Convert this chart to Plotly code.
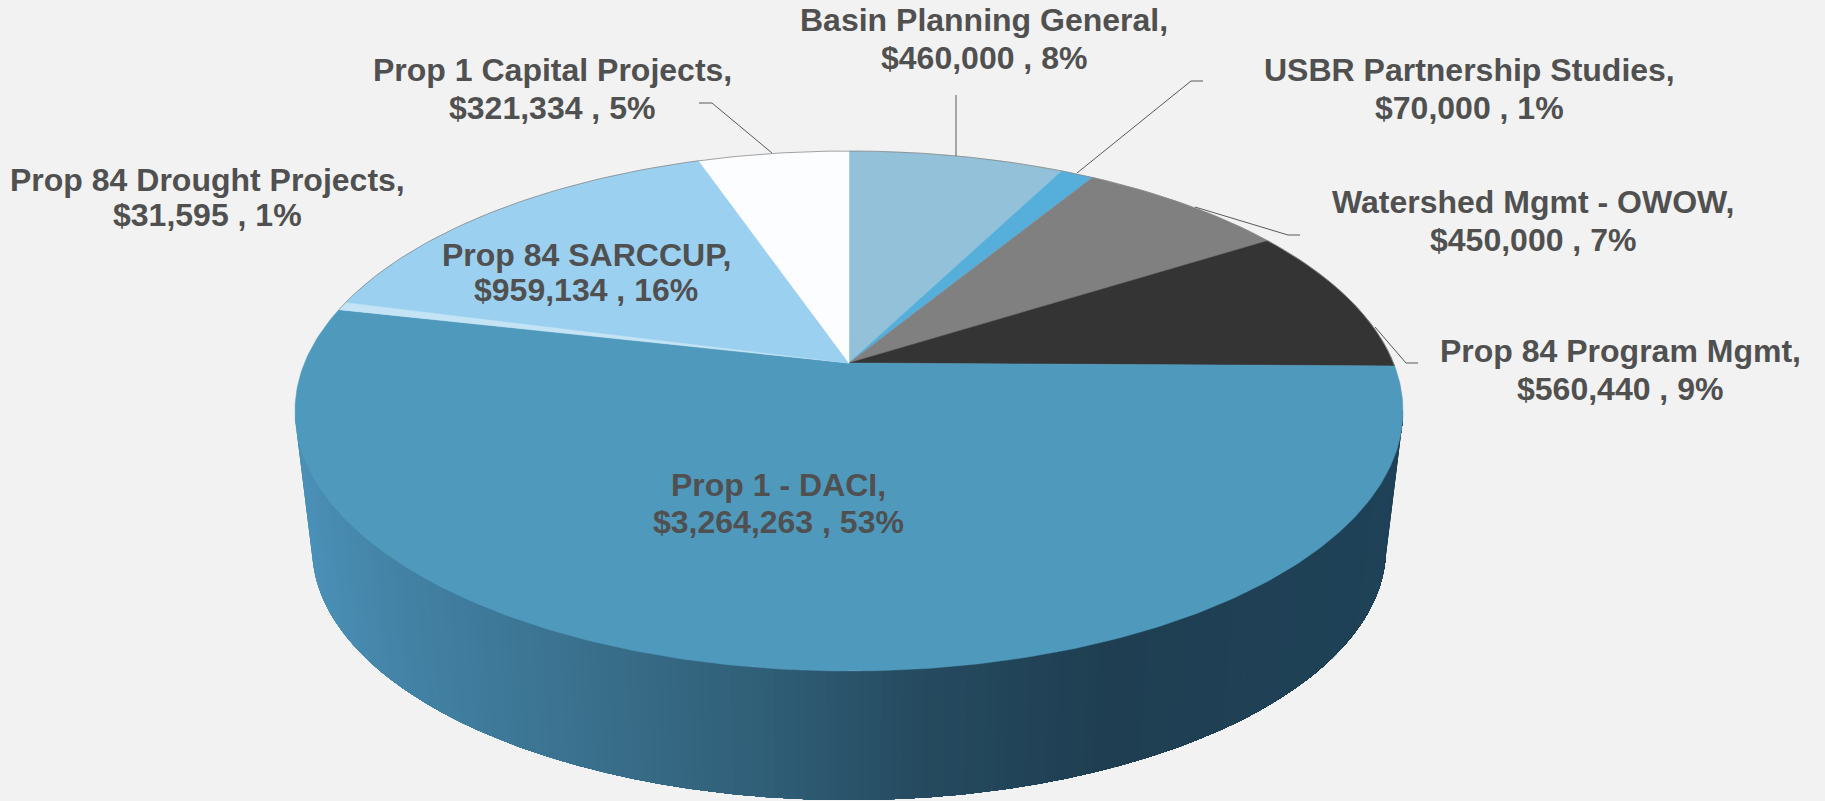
import numpy as np
import plotly.graph_objects as go

# ---------- data ----------
categories = ["Basin Planning General", "USBR Partnership Studies", "Watershed Mgmt - OWOW",
              "Prop 84 Program Mgmt", "Prop 1 - DACI", "Prop 84 Drought Projects",
              "Prop 84 SARCCUP", "Prop 1 Capital Projects"]
values = [460000, 70000, 450000, 560440, 3264263, 31595, 959134, 321334]
slice_colors = ["#92c1d9", "#56aedb", "#808080", "#343434", "#4f99bd", "#c4e4f6", "#9bd0f0", "#fcfdff"]

# ---------- layout constants ----------
W, H = 1825, 801
BG = "#f2f2f2"
TEXT = "#505050"
CX, CY = 849.0, 363.0          # apex of the pie on the canvas
E_CX, E_CY, E_RX, E_RY = 849.0, 411.0, 554.0, 260.0   # top-face ellipse
L_CY, L_RX, L_RY = 548.0, 537.0, 252.0                # bottom-face ellipse
K = 0.1846
PA = E_RX * np.sqrt(1 - K ** 2)
PB = E_RY * (1 - K ** 2)
FONT_SIZE = 32

label_pos = {  # centre x, centre y, line gap of the two-line label
    "Basin Planning General": (984, 39, 38),
    "USBR Partnership Studies": (1469, 88.5, 38),
    "Watershed Mgmt - OWOW": (1533, 221, 38),
    "Prop 84 Program Mgmt": (1620, 370, 38),
    "Prop 1 - DACI": (778, 503, 37),
    "Prop 84 Drought Projects": (207, 197.5, 35),
    "Prop 84 SARCCUP": (586, 272.5, 35),
    "Prop 1 Capital Projects": (552, 89, 38),
}
leaders = [
    [(699, 103), (712, 103), (772, 153)],
    [(956, 95), (956, 156)],
    [(1203, 81), (1191, 81), (1077, 173)],
    [(1300, 235), (1288, 235), (1195, 207)],
    [(1418, 363), (1406, 363), (1375, 327)],
]
wall_stops_x = [294, 400, 500, 600, 770, 900, 1100, 1402]
wall_stops_rgb = [(76, 146, 186), (67, 130, 165), (62, 120, 152), (57, 110, 138),
                  (47, 93, 118), (38, 76, 97), (31, 62, 82), (31, 66, 88)]


def project(theta):
    """Angle clockwise from the top of the pie -> canvas point, with perspective."""
    d = 1 + K * np.cos(theta)
    return CX + PA * np.sin(theta) / d, CY - PB * np.cos(theta) / d


def wall_color(x):
    rgb = [np.interp(x, wall_stops_x, [c[i] for c in wall_stops_rgb]) for i in range(3)]
    return "rgb(%d,%d,%d)" % tuple(int(round(v)) for v in rgb)


fig = go.Figure()

# side wall of the pie, shaded left to right: painted from the left, each layer
# covering everything to its right, so no seams show between the shades
phi_all = np.linspace(0, np.pi, 161)
for j in range(len(phi_all) - 1, 0, -1):
    seg = phi_all[:j + 1]
    xu = E_CX + E_RX * np.cos(seg)
    yu = E_CY + E_RY * np.sin(seg)
    xl = E_CX + L_RX * np.cos(seg)
    yl = L_CY + L_RY * np.sin(seg)
    xs = np.concatenate([xu, xl[::-1], xu[:1]])
    ys = np.concatenate([yu, yl[::-1], yu[:1]])
    col = wall_color(E_CX + 0.5 * (E_RX + L_RX) * np.cos(phi_all[j]))
    fig.add_trace(go.Scatter(x=xs, y=ys, mode="lines", fill="toself", fillcolor=col,
                             line=dict(width=0), hoverinfo="skip"))

# top face wedges, sized from the values
fractions = np.array(values, dtype=float) / sum(values)
edges = np.concatenate([[0], np.cumsum(fractions)]) * 2 * np.pi
for i, name in enumerate(categories):
    th = np.linspace(edges[i], edges[i + 1], max(int((edges[i + 1] - edges[i]) * 80), 6))
    px, py = project(th)
    xs = [CX] + list(px) + [CX]
    ys = [CY] + list(py) + [CY]
    fig.add_trace(go.Scatter(x=xs, y=ys, mode="lines", fill="toself", fillcolor=slice_colors[i],
                             line=dict(color=slice_colors[i], width=0.5), hoverinfo="skip", name=name))

# thin rim along the back edge
th = np.linspace(edges[5], edges[4] + 2 * np.pi, 200)
px, py = project(th)
fig.add_trace(go.Scatter(x=px, y=py, mode="lines", line=dict(color="#8a8a8a", width=0.8), hoverinfo="skip"))

# leader lines
for pts in leaders:
    fig.add_trace(go.Scatter(x=[p[0] for p in pts], y=[p[1] for p in pts], mode="lines",
                             line=dict(color="#595959", width=1), hoverinfo="skip"))

# labels, one annotation per line for the tight line spacing
for name, v, f in zip(categories, values, fractions):
    x, y, gap = label_pos[name]
    for text, dy in ((f"{name},", -gap / 2), (f"${v:,} , {round(f * 100)}%", gap / 2)):
        fig.add_annotation(x=x, y=y + dy, xref="x", yref="y", showarrow=False, align="center",
                           text=f"<b>{text}</b>",
                           font=dict(family="Liberation Sans", size=FONT_SIZE, color=TEXT))

fig.update_layout(width=W, height=H, margin=dict(l=0, r=0, t=0, b=0), showlegend=False,
                  paper_bgcolor=BG, plot_bgcolor=BG,
                  xaxis=dict(range=[0, W], visible=False, fixedrange=True),
                  yaxis=dict(range=[H, 0], visible=False, fixedrange=True))

fig.write_html("out.html", config={"displayModeBar": False},
               post_script="document.body.style.margin='0';document.body.style.background='%s';" % BG)
